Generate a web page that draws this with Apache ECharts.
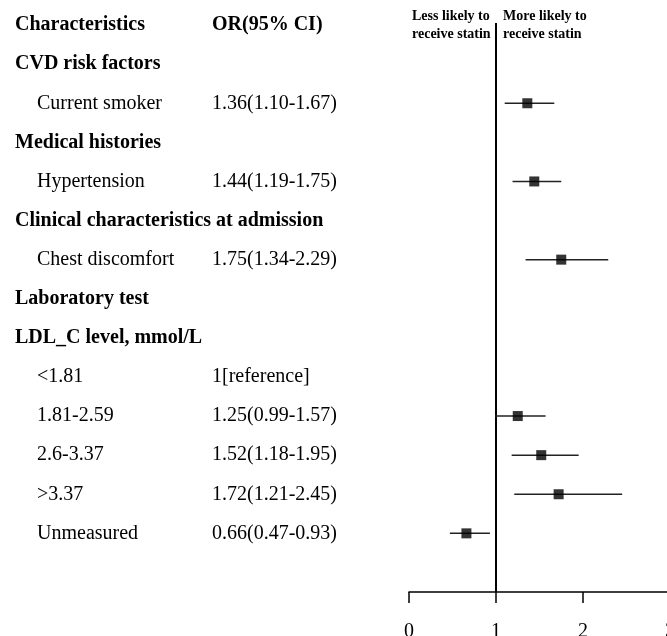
<!DOCTYPE html>
<html><head><meta charset="utf-8">
<script src="https://cdn.jsdelivr.net/npm/echarts@6/dist/echarts.min.js"></script>
<style>html,body{margin:0;padding:0;background:#fff}#c{width:667px;height:636px}</style>
</head><body><div id="c"></div>
<script>
const rowLabels = ['Characteristics','CVD risk factors','Current smoker','Medical histories','Hypertension','Clinical characteristics at admission','Chest discomfort','Laboratory test','LDL_C level, mmol/L','<1.81','1.81-2.59','2.6-3.37','>3.37','Unmeasured',''];
const rowKinds = ['head','group','item','group','item','group','item','group','group','item','item','item','item','item','blank'];
const orTexts = ['OR(95% CI)','','1.36(1.10-1.67)','','1.44(1.19-1.75)','','1.75(1.34-2.29)','','','1[reference]','1.25(0.99-1.57)','1.52(1.18-1.95)','1.72(1.21-2.45)','0.66(0.47-0.93)',''];
const orValues = [null,null,1.36,null,1.44,null,1.75,null,null,null,1.25,1.52,1.72,0.66,null];
const ciLow =    [null,null,1.10,null,1.19,null,1.34,null,null,null,0.99,1.18,1.21,0.47,null];
const ciHigh =   [null,null,1.67,null,1.75,null,2.29,null,null,null,1.57,1.95,2.45,0.93,null];
const xTicks = [0,1,2,3];
const nullLine = [1, 0.45, 15];
const sideNotes = ['Less likely to\nreceive statin','More likely to\nreceive statin'];

const FONT = '"Liberation Serif","Times New Roman",serif';
const chart = echarts.init(document.getElementById('c'), null, {renderer:'canvas'});

const pointData = [], ciData = [];
orValues.forEach((v,i)=>{ if(v!=null){ pointData.push([v,i]); ciData.push([ciLow[i],ciHigh[i],i]); } });

const richStyles = {
  b:{fontFamily:FONT,fontSize:20,fontWeight:'bold',color:'#000'},
  n:{fontFamily:FONT,fontSize:20,fontWeight:'normal',color:'#000',padding:[0,0,0,22]},
  v:{fontFamily:FONT,fontSize:20,fontWeight:'normal',color:'#000'}
};

chart.setOption({
  animation:false,
  backgroundColor:'#fff',
  grid:{left:409,top:5.5,width:261,height:586.5,containLabel:false,outerBoundsMode:'none'},
  xAxis:{type:'value',min:xTicks[0],max:xTicks[xTicks.length-1],interval:1,position:'bottom',
    axisLine:{show:true,onZero:false,lineStyle:{color:'#000',width:1.5}},
    axisTick:{show:true,length:11,lineStyle:{color:'#000',width:1.5}},
    splitLine:{show:false},
    axisLabel:{fontFamily:FONT,fontSize:20,color:'#000',margin:30,showMaxLabel:true,showMinLabel:true}},
  yAxis:[
    {type:'category',data:rowLabels,inverse:true,position:'left',
      axisLine:{show:false},axisTick:{show:false},splitLine:{show:false},
      axisLabel:{show:true,align:'left',margin:394,verticalAlign:'middle',interval:0,
        formatter:(val,idx)=>{ const k=rowKinds[idx]; if(!val) return ''; return k==='item'?'{n|'+val+'}':'{b|'+val+'}'; },
        rich:richStyles}},
    {type:'category',data:rowLabels,inverse:true,position:'left',offset:0,
      axisLine:{show:false},axisTick:{show:false},splitLine:{show:false},
      axisLabel:{show:true,align:'left',margin:197,verticalAlign:'middle',interval:0,
        formatter:(val,idx)=>{ const t=orTexts[idx]; if(!t) return ''; return rowKinds[idx]==='head'?'{b|'+t+'}':'{v|'+t+'}'; },
        rich:richStyles}},
    {type:'value',min:0,max:15,inverse:true,show:false}
  ],
  graphic:[
    {type:'text',left:412,top:7,style:{text:sideNotes[0],fontFamily:FONT,fontSize:14,fontWeight:'bold',fill:'#000',lineHeight:18}},
    {type:'text',left:503,top:7,style:{text:sideNotes[1],fontFamily:FONT,fontSize:14,fontWeight:'bold',fill:'#000',lineHeight:18}}
  ],
  series:[
    {type:'line',yAxisIndex:2,data:[[nullLine[0],nullLine[1]],[nullLine[0],nullLine[2]]],symbol:'none',
      lineStyle:{color:'#000',width:2},z:2,silent:true},
    {type:'custom',yAxisIndex:0,data:ciData,encode:{x:[0,1],y:2},z:3,
      renderItem:(params,api)=>{
        const p1=api.coord([api.value(0),api.value(2)]);
        const p2=api.coord([api.value(1),api.value(2)]);
        return {type:'line',shape:{x1:p1[0],y1:p1[1],x2:p2[0],y2:p2[1]},style:{stroke:'#222',lineWidth:1.5}};
      }},
    {type:'scatter',yAxisIndex:0,data:pointData,symbol:'rect',symbolSize:10,itemStyle:{color:'#000'},z:4}
  ]
});
</script></body></html>
